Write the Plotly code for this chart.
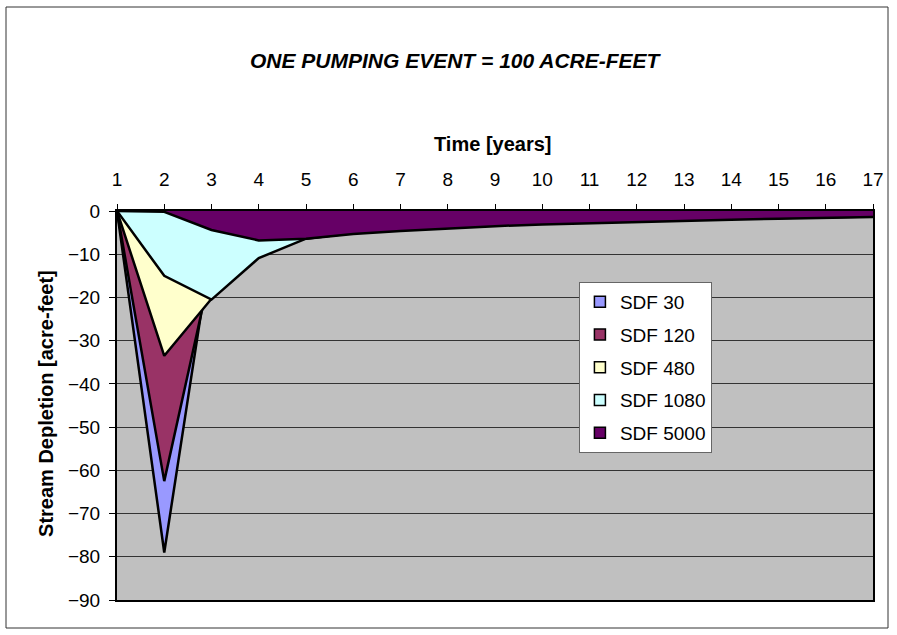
import plotly.graph_objects as go

years = list(range(1, 18))
tick_labels = [str(y) for y in years]

sdf_30 = [0, -79.0, -8.0, -3.5, -2.0, -1.4, -1.1, -0.9, -0.7, -0.6, -0.5, -0.4, -0.4, -0.3, -0.3, -0.3, -0.2]
sdf_120 = [0, -62.5, -13.0, -6.5, -4.0, -2.8, -2.1, -1.7, -1.4, -1.2, -1.0, -0.9, -0.8, -0.7, -0.6, -0.6, -0.5]
sdf_480 = [0, -33.5, -20.3, -9.5, -5.8, -4.5, -3.7, -3.1, -2.7, -2.3, -2.0, -1.8, -1.6, -1.4, -1.3, -1.2, -1.0]
sdf_1080 = [0, -15.0, -20.5, -10.9, -6.4, -5.1, -4.3, -3.7, -3.2, -2.8, -2.5, -2.2, -2.0, -1.8, -1.6, -1.4, -1.3]
sdf_5000 = [0, -0.2, -4.4, -6.8, -6.4, -5.3, -4.6, -4.0, -3.5, -3.1, -2.8, -2.5, -2.2, -2.0, -1.8, -1.6, -1.4]

series = [
    ("SDF 30", sdf_30, "#9999FF"),
    ("SDF 120", sdf_120, "#993366"),
    ("SDF 480", sdf_480, "#FFFFCC"),
    ("SDF 1080", sdf_1080, "#CCFFFF"),
    ("SDF 5000", sdf_5000, "#660066"),
]

FONT = "Liberation Sans, Arial, sans-serif"

fig = go.Figure()
for name, vals, color in series:
    fig.add_trace(go.Scatter(
        x=years, y=vals, name=name, mode="lines",
        fill="tozeroy", fillcolor=color,
        line=dict(color="black", width=2.5),
        legendgroup=name, showlegend=False,
        hoverinfo="x+y+name",
    ))
# legend-only square swatches (Excel style)
for name, vals, color in series:
    fig.add_trace(go.Scatter(
        x=[None], y=[None], name=name, mode="markers",
        marker=dict(symbol="square", size=11, color=color,
                    line=dict(color="black", width=1.5)),
        legendgroup=name, showlegend=True,
    ))

fig.update_layout(
    width=897, height=635,
    margin=dict(l=117, r=24, t=211, b=35),
    paper_bgcolor="white",
    plot_bgcolor="#C0C0C0",
    font=dict(family=FONT, size=19, color="black"),
    showlegend=True,
    legend=dict(
        x=0.611, y=0.8175, xanchor="left", yanchor="top",
        bgcolor="white", bordercolor="#666666", borderwidth=1,
        font=dict(family=FONT, size=19, color="black"),
        traceorder="grouped", tracegroupgap=5, itemwidth=30,
    ),
    xaxis=dict(
        side="top", range=[1, 17], tickmode="array",
        tickvals=years, ticktext=tick_labels,
        ticks="outside", ticklen=5, tickcolor="black", tickwidth=1,
        ticklabelstandoff=10,
        showline=True, linecolor="black", linewidth=2, mirror=True,
        showgrid=False, zeroline=False,
        tickfont=dict(family=FONT, size=19),
    ),
    yaxis=dict(
        range=[-90, 0], tickmode="linear", tick0=0, dtick=10,
        ticks="outside", ticklen=6, tickcolor="black", tickwidth=1,
        ticklabelstandoff=5,
        showline=True, linecolor="black", linewidth=2, mirror=True,
        showgrid=True, gridcolor="#333333", gridwidth=1,
        zeroline=False,
        tickfont=dict(family=FONT, size=19),
    ),
    annotations=[
        dict(text="<b><i>ONE PUMPING EVENT = 100 ACRE-FEET</i></b>",
             xref="paper", yref="paper", x=0.4484, y=1.388,
             xanchor="center", yanchor="middle", showarrow=False,
             font=dict(family=FONT, size=21)),
        dict(text="<b>Time [years]</b>",
             xref="paper", yref="paper", x=0.497, y=1.172,
             xanchor="center", yanchor="middle", showarrow=False,
             font=dict(family=FONT, size=20)),
        dict(text="<b>Stream Depletion [acre-feet]</b>",
             xref="paper", yref="paper", x=-0.0939, y=0.504,
             xanchor="center", yanchor="middle", showarrow=False,
             textangle=-90, font=dict(family=FONT, size=20)),
    ],
    shapes=[
        dict(type="rect", xref="paper", yref="paper",
             x0=(6 - 117) / 756, x1=(888 - 117) / 756,
             y0=(600 - 628) / 389, y1=(600 - 7) / 389,
             line=dict(color="#333333", width=1), fillcolor="rgba(0,0,0,0)",
             layer="below"),
    ],
)

fig.write_html(
    "out.html",
    config={"displayModeBar": False},
    post_script="document.body.style.margin='0';document.body.style.overflow='hidden';",
)
